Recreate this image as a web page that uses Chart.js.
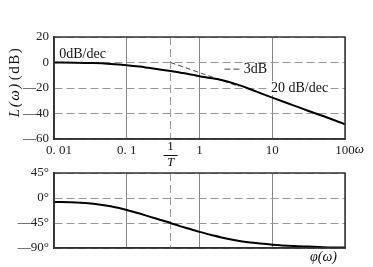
<!DOCTYPE html>
<html>
<head>
<meta charset="utf-8">
<script src="https://cdn.jsdelivr.net/npm/chart.js@4"></script>
<style>
body{margin:0;background:#fff;}
#wrap{position:relative;width:373px;height:267px;overflow:hidden;}
canvas{position:absolute;left:0;}
#gain{top:0;}
#phase{top:160px;}
</style>
</head>
<body>
<div id="wrap">
<canvas id="gain" width="373" height="172"></canvas>
<canvas id="phase" width="373" height="107"></canvas>
</div>
<script>
// values
const omega    = [0.01, 0.02, 0.035, 0.06, 0.1, 0.15, 0.2, 0.3, 0.4, 0.55, 0.7, 1, 1.5, 2, 3.1, 5, 7, 10, 20, 31.6, 50, 100];
const gainDb   = [0, -0.1, -0.4, -1.1, -2.1, -3.2, -4.2, -5.6, -6.7, -8.0, -9.0, -10.7, -12.4, -13.8, -16.8, -21, -24.2, -27.5, -33.8, -38, -42, -48.4];
const phaseDeg = [-7, -8, -10.5, -15, -21.6, -28, -33, -40, -45, -51, -55, -61, -67, -71, -76, -80, -82, -84, -86.5, -87.5, -88.5, -89.2];

const xTicks  = [0.01, 0.1, 1, 10, 100];
const xLabels = ['   0. 01', '0. 1', '1', '10', '100'];
const gainTicks  = [-60, -40, -20, 0, 20];
const gainLabels = ['—60', '—40', '—20', '0', '20'];
const phaseTicks  = [-90, -45, 0, 45];
const phaseLabels = ['—90°', '—45°', '0°', '45°'];

const cornerW = 0.4;              // 1/T
const asymW  = [0.4, 3.5];        // -20 dB/dec asymptote
const asymDb = [0, -18.8];
const leadW  = [2.2, 3.9];        // 3dB leader
const leadDb = [-5.2, -5.2];

const serif = "'Liberation Serif', 'DejaVu Serif', serif";
Chart.defaults.font.family = serif;
Chart.defaults.font.size = 13;
Chart.defaults.color = '#222';

const pts = (xs, ys) => xs.map((x,i)=>({x, y: ys[i]}));

const frame = {
  id:'frame',
  afterDatasetsDraw(chart){
    const {ctx, chartArea:a} = chart;
    ctx.save();
    ctx.strokeStyle = '#333'; ctx.lineWidth = 1.5;
    ctx.strokeRect(a.left, a.top, a.right - a.left, a.bottom - a.top);
    ctx.restore();
  }
};

const gainNotes = {
  id:'gainNotes',
  afterDraw(chart){
    const {ctx, chartArea:a, scales:{x, y}} = chart;
    ctx.save();
    ctx.fillStyle = '#111';
    ctx.textBaseline = 'middle';
    ctx.font = '14px ' + serif;
    ctx.fillText('0dB/dec', x.getPixelForValue(0.0118), y.getPixelForValue(6.8));
    ctx.fillText('3dB', x.getPixelForValue(4.06), y.getPixelForValue(-5.2));
    const px = x.getPixelForValue(9.6), py = y.getPixelForValue(-20);
    const w = ctx.measureText('20 dB/dec').width;
    ctx.fillStyle = '#fff'; ctx.fillRect(px - 2, py - 7, w + 4, 14);
    ctx.fillStyle = '#111'; ctx.fillText('20 dB/dec', px, py);

    // omega after the 100 tick
    ctx.font = '13px ' + serif;
    const w100 = ctx.measureText('100').width;
    ctx.font = 'italic 13px ' + serif;
    ctx.textBaseline = 'top';
    ctx.fillText('ω', x.getPixelForValue(100) + w100 / 2, a.bottom + 4);

    // 1/T under the axis
    const cx = x.getPixelForValue(cornerW);
    ctx.textAlign = 'center';
    ctx.textBaseline = 'middle';
    ctx.font = '13px ' + serif;
    ctx.fillText('1', cx, a.bottom + 8);
    ctx.strokeStyle = '#111'; ctx.lineWidth = 1;
    ctx.beginPath(); ctx.moveTo(cx - 7, a.bottom + 16.5); ctx.lineTo(cx + 7, a.bottom + 16.5); ctx.stroke();
    ctx.font = 'italic 13px ' + serif;
    ctx.fillText('T', cx, a.bottom + 24);

    // y title
    ctx.translate(15, 82);
    ctx.rotate(-Math.PI / 2);
    ctx.textAlign = 'left';
    ctx.letterSpacing = '1.5px';
    ctx.font = 'italic 15px ' + serif;
    const p1 = 'L(ω)', p2 = '(dB)';
    const w1 = ctx.measureText(p1).width;
    ctx.font = '15px ' + serif;
    const w2 = ctx.measureText(p2).width;
    const sx = -(w1 + w2 + 2) / 2;
    ctx.font = 'italic 15px ' + serif;
    ctx.fillText(p1, sx, 0);
    ctx.font = '15px ' + serif;
    ctx.fillText(p2, sx + w1 + 2, 0);
    ctx.restore();
  }
};

const phaseNotes = {
  id:'phaseNotes',
  afterDraw(chart){
    const {ctx, chartArea:a} = chart;
    ctx.save();
    ctx.fillStyle = '#111';
    ctx.font = 'italic 14px ' + serif;
    ctx.textBaseline = 'middle';
    ctx.fillText('φ(ω)', a.right - 35, a.bottom + 9);
    ctx.restore();
  }
};

function xScale(showLabels){
  return {
    type:'logarithmic', min:0.01, max:100,
    afterBuildTicks: s => { s.ticks = xTicks.map(v=>({value:v})); },
    afterFit: s => { s.height = showLabels ? 20 : 0; },
    grid:{color:'#888', lineWidth:1, drawTicks:false},
    border:{color:'#333', width:1.5},
    ticks:{display:showLabels, autoSkip:false, maxRotation:0, padding:4,
      callback:(v)=> xLabels[xTicks.indexOf(v)] ?? ''}
  };
}

function yScale(min, max, ticks, labels){
  return {
    min, max,
    afterBuildTicks: s => { s.ticks = ticks.map(v=>({value:v})); },
    afterFit: s => { s.width = 54; },
    grid:{color:'#999', lineWidth:1, drawTicks:false},
    border:{color:'#333', width:1.5, dash:[8,4]},
    ticks:{autoSkip:false, padding:5, callback:(v)=> labels[ticks.indexOf(v)] ?? ''}
  };
}

const common = {
  responsive:false, animation:false,
  plugins:{legend:{display:false}, tooltip:{enabled:false}},
  elements:{point:{radius:0}}
};

new Chart(document.getElementById('gain'), {
  type:'line',
  data:{datasets:[
    {data:pts(omega, gainDb), borderColor:'#000', borderWidth:2, cubicInterpolationMode:'monotone'},
    {data:pts(asymW, asymDb), borderColor:'#444', borderWidth:1, borderDash:[5,3]},
    {data:pts(leadW, leadDb), borderColor:'#444', borderWidth:1, borderDash:[6,3]},
    {data:pts([cornerW, cornerW], [20, -60]), borderColor:'#999', borderWidth:1, borderDash:[8,4]}
  ]},
  options:{...common,
    layout:{padding:{left:0, top:37, right:28, bottom:13}},
    scales:{x:xScale(true), y:yScale(-60, 20, gainTicks, gainLabels)}
  },
  plugins:[frame, gainNotes]
});

new Chart(document.getElementById('phase'), {
  type:'line',
  data:{datasets:[
    {data:pts(omega, phaseDeg), borderColor:'#000', borderWidth:2, cubicInterpolationMode:'monotone'},
    {data:pts([cornerW, cornerW], [45, -90]), borderColor:'#999', borderWidth:1, borderDash:[8,4]}
  ]},
  options:{...common,
    layout:{padding:{left:0, top:13, right:28, bottom:19}},
    scales:{x:xScale(false), y:yScale(-90, 45, phaseTicks, phaseLabels)}
  },
  plugins:[frame, phaseNotes]
});
</script>
</body>
</html>
